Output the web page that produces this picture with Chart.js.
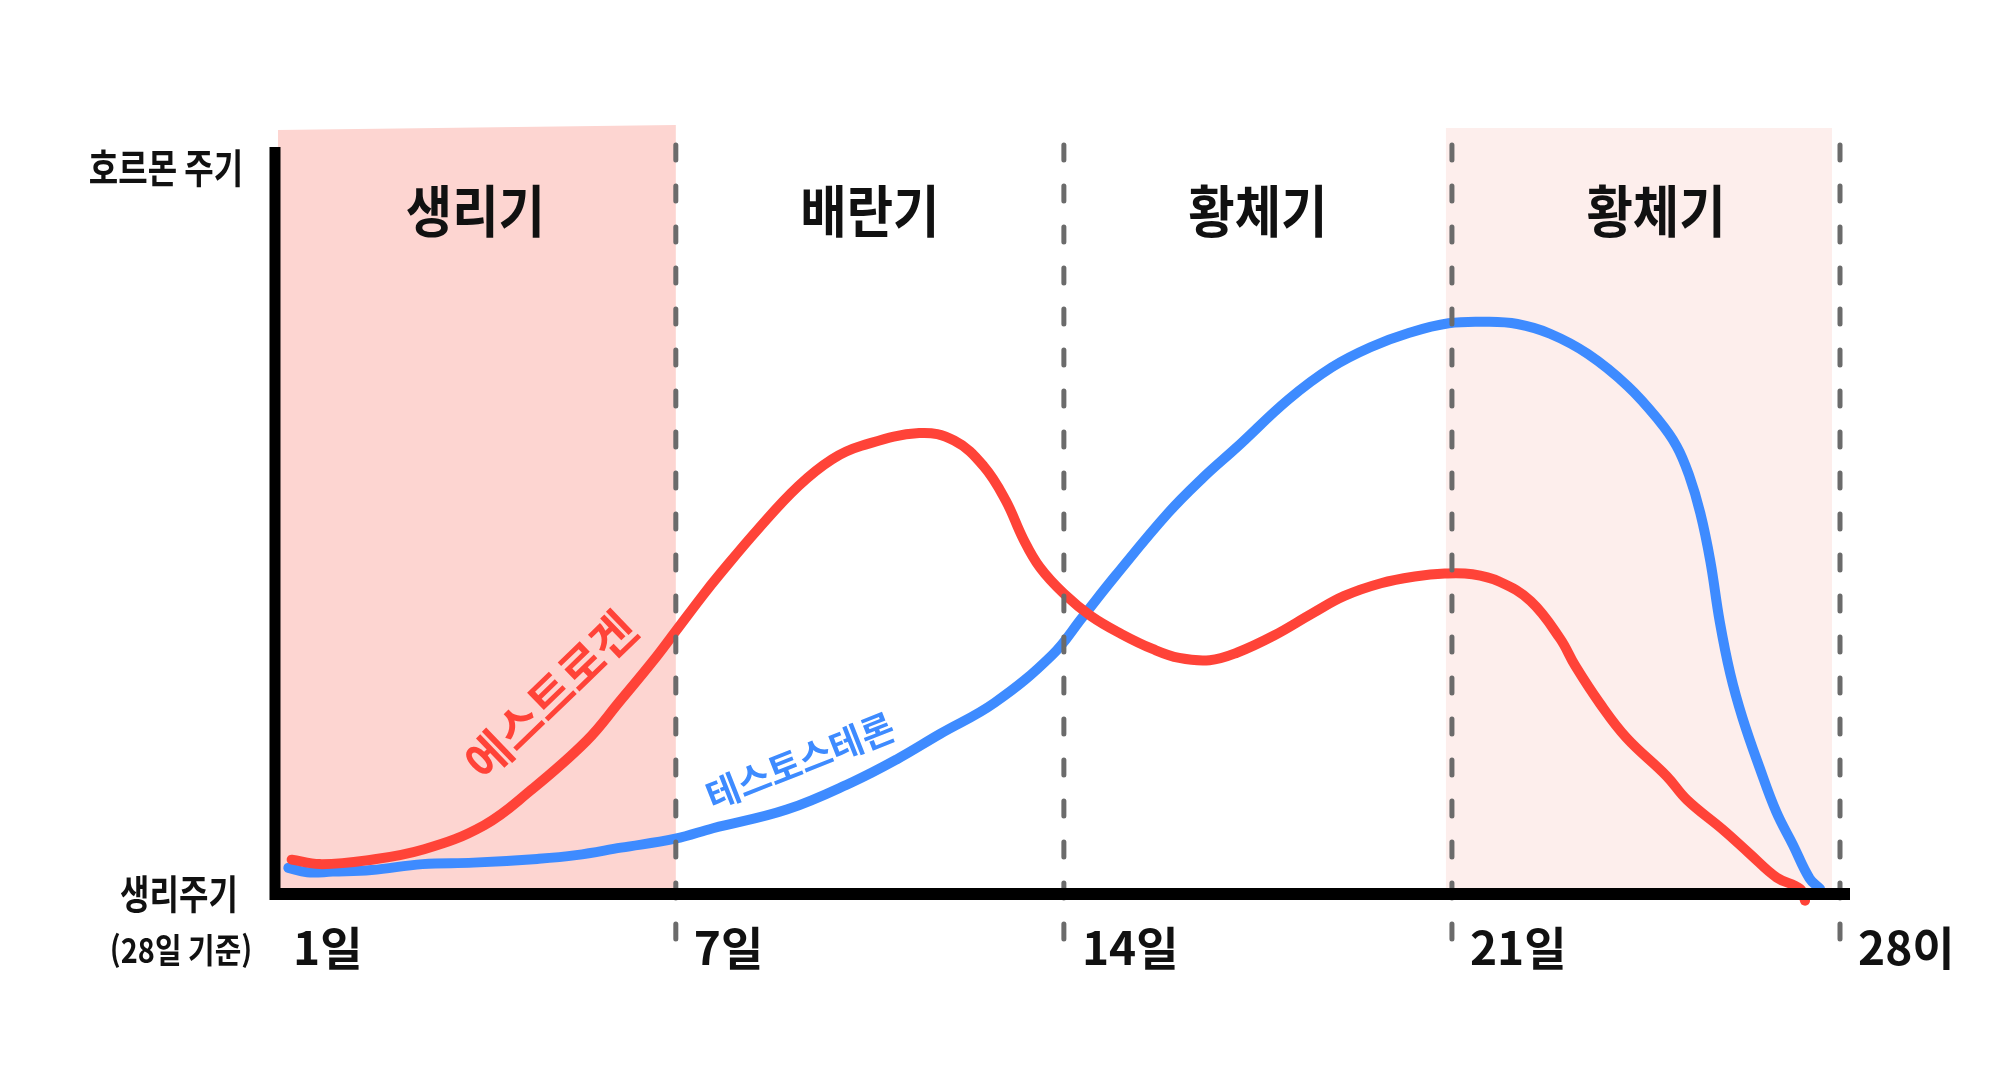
<!DOCTYPE html>
<html lang="ko">
<head>
<meta charset="utf-8">
<script src="https://cdn.jsdelivr.net/npm/chart.js@4.4.1/dist/chart.umd.min.js"></script>
<style>
html,body{margin:0;padding:0;background:#ffffff;}
#wrap{width:2008px;height:1068px;position:relative;}
</style>
</head>
<body>
<div id="wrap"><canvas id="c"></canvas></div>
<script>
// ---- data (x = day on the 28-day axis, y = relative hormone level) ----
const X_START = -0.23; // axis origin, labelled "1일"
const estrogenDays = [0.07,0.58,1.42,2.46,3.54,4.37,5.39,5.99,6.59,7.00,7.49,7.77,8.49,9.21,9.82,10.35,11.39,12.02,12.55,12.95,13.27,13.57,14.00,14.49,15.04,15.60,16.08,16.63,17.12,17.79,18.49,19.06,19.72,20.33,20.87,21.37,21.86,22.42,22.95,23.22,23.67,24.15,24.87,25.24,25.89,26.37,26.86,27.28,27.37];
const estrogenLevels = [4.6,4.0,4.5,6.0,9.2,13.8,20.5,25.8,31.2,35.2,40.0,42.6,48.9,54.6,58.2,60.0,61.7,60.7,57.3,52.7,47.5,43.7,40.2,37.2,34.8,32.8,31.6,31.3,32.3,34.6,37.6,39.9,41.6,42.5,42.9,42.8,41.8,39.2,34.2,30.6,25.5,20.9,15.8,12.6,8.6,5.4,2.2,0.7,-0.9];
const testosteroneDays = [0.01,0.35,0.81,1.51,2.43,3.35,4.50,5.20,6.01,6.99,7.67,9.00,10.19,10.98,11.76,12.75,13.79,14.33,14.93,15.88,16.52,17.12,18.05,18.83,19.53,20.22,20.94,21.61,22.18,22.77,23.45,24.17,24.72,25.05,25.28,25.48,25.66,25.83,26.02,26.24,26.55,26.85,27.15,27.45,27.64];
const testosteroneLevels = [3.5,2.9,3.0,3.2,4.0,4.2,4.7,5.2,6.2,7.4,8.8,11.3,15.0,18.0,21.4,25.6,32.0,37.0,42.6,51.0,55.8,59.8,66.2,70.5,73.2,75.1,76.4,76.6,76.3,75.0,72.3,68.0,63.5,60.0,56.0,51.0,44.6,36.5,29.5,23.6,16.9,11.0,6.6,2.1,0.7];
const tickDays = [X_START,7,14,21,28];
const tickLabels = ['1일','7일','14일','21일','28이'];
const phaseBounds = [X_START,7,14,21,28];
const phaseLabels = ['생리기','배란기','황체기','황체기'];
const seriesNames = ['에스트로겐','테스토스테론'];
const yAxisTitle = '호르몬 주기';
const xAxisTitle = ['생리주기','(28일 기준)'];

// ---- styling ----
const FONT = '"Noto Sans CJK KR", "Noto Sans", sans-serif';
const RED = '#FF4338';
const BLUE = '#3E8BFF';
const INK = '#111111';
const DASH = '#6B6B6B';
const PINK_STRONG = '#FDD5D1';
const PINK_LIGHT = '#FDEEEC';
// where the in-chart series names sit (in data units) and their tilt
const seriesLabelPlacement = [
  {day: 4.74, level: 26.6, angle: -44, size: 47, color: RED},
  {day: 9.24, level: 17.8, angle: -21.5, size: 36, color: BLUE}
];

function drawText(ctx, text, x, y, size, color, sx, angle) {
  ctx.save();
  ctx.translate(x, y);
  if (angle) ctx.rotate(angle * Math.PI / 180);
  ctx.scale(sx || 1, 1);
  ctx.font = 'bold ' + size + 'px ' + FONT;
  ctx.fillStyle = color;
  ctx.textAlign = 'center';
  ctx.textBaseline = 'middle';
  ctx.fillText(text, 0, 0);
  ctx.restore();
}

const decor = {
  id: 'decor',
  beforeDatasetsDraw(chart) {
    const {ctx, chartArea: a, scales: {x}} = chart;
    ctx.save();
    const p0 = x.getPixelForValue(phaseBounds[0]);
    const p1 = x.getPixelForValue(phaseBounds[1]);
    const p3 = x.getPixelForValue(phaseBounds[3]);
    const p4 = x.getPixelForValue(phaseBounds[4]);
    ctx.fillStyle = PINK_STRONG;
    ctx.beginPath();
    ctx.moveTo(p0 + 3, a.top - 17);
    ctx.lineTo(p1, a.top - 22);
    ctx.lineTo(p1, a.bottom);
    ctx.lineTo(p0 + 3, a.bottom);
    ctx.closePath();
    ctx.fill();
    ctx.fillStyle = PINK_LIGHT;
    ctx.fillRect(p3 - 6, a.top - 19, (p4 - 8) - (p3 - 6), a.bottom - a.top + 19);
    ctx.restore();
  },
  afterDatasetsDraw(chart) {
    const {ctx, chartArea: a, scales: {x, y}} = chart;
    ctx.save();
    // dashed phase dividers
    ctx.strokeStyle = DASH;
    ctx.lineWidth = 5;
    ctx.lineCap = 'round';
    ctx.setLineDash([15, 26]);
    for (let i = 1; i < phaseBounds.length; i++) {
      const px = x.getPixelForValue(phaseBounds[i]);
      ctx.beginPath();
      ctx.moveTo(px, a.top - 2);
      ctx.lineTo(px, a.bottom + 68);
      ctx.stroke();
    }
    ctx.setLineDash([]);
    // axes
    ctx.strokeStyle = '#000';
    ctx.lineCap = 'butt';
    ctx.lineWidth = 11;
    ctx.beginPath();
    ctx.moveTo(a.left, a.top);
    ctx.lineTo(a.left, a.bottom + 6);
    ctx.stroke();
    ctx.lineWidth = 12;
    ctx.beginPath();
    ctx.moveTo(a.left - 5, a.bottom);
    ctx.lineTo(a.right + 10, a.bottom);
    ctx.stroke();
    // phase labels
    for (let i = 0; i < phaseLabels.length; i++) {
      const cx = (x.getPixelForValue(phaseBounds[i]) + x.getPixelForValue(phaseBounds[i + 1])) / 2;
      drawText(ctx, phaseLabels[i], cx + (i === 3 ? 10 : 0), a.top + 64, 56, INK, 0.9, 0);
    }
    // axis titles
    drawText(ctx, yAxisTitle, a.left - 109, a.top + 21, 40, INK, 0.8, 0);
    drawText(ctx, xAxisTitle[0], a.left - 96, a.bottom + 0, 40, INK, 0.8, 0);
    drawText(ctx, xAxisTitle[1], a.left - 94, a.bottom + 56, 34, INK, 0.85, 0);
    // series names along the curves
    seriesLabelPlacement.forEach((s, i) => {
      drawText(ctx, seriesNames[i], x.getPixelForValue(s.day), y.getPixelForValue(s.level), s.size, s.color, 1, s.angle);
    });
    ctx.restore();
  }
};

const ctxEl = document.getElementById('c');
new Chart(ctxEl, {
  type: 'line',
  data: {
    datasets: [
      {
        label: seriesNames[0],
        data: estrogenDays.map((d, i) => ({x: d, y: estrogenLevels[i]})),
        borderColor: RED,
        backgroundColor: RED,
        borderWidth: 10,
        pointRadius: 0,
        tension: 0.4,
        borderCapStyle: 'round',
        borderJoinStyle: 'round',
        clip: false
      },
      {
        label: seriesNames[1],
        data: testosteroneDays.map((d, i) => ({x: d, y: testosteroneLevels[i]})),
        borderColor: BLUE,
        backgroundColor: BLUE,
        borderWidth: 10,
        pointRadius: 0,
        tension: 0.4,
        borderCapStyle: 'round',
        borderJoinStyle: 'round',
        clip: false
      }
    ]
  },
  options: {
    responsive: true,
    maintainAspectRatio: false,
    animation: false,
    events: [],
    layout: {padding: {left: 275, right: 168, top: 147, bottom: 0}},
    plugins: {legend: {display: false}, tooltip: {enabled: false}},
    scales: {
      x: {
        type: 'linear',
        min: X_START,
        max: 28,
        grid: {display: false},
        border: {display: false},
        afterBuildTicks: (scale) => { scale.ticks = tickDays.map(v => ({value: v})); },
        afterFit: (scale) => { scale.height = 174; },
        ticks: {
          autoSkip: false,
          maxRotation: 0,
          minRotation: 0,
          align: 'start',
          labelOffset: 18,
          padding: 18,
          color: INK,
          font: {family: FONT, size: 46, weight: 'bold'},
          callback: (v, i) => tickLabels[i]
        }
      },
      y: {
        type: 'linear',
        min: 0,
        max: 100,
        display: false
      }
    }
  },
  plugins: [decor]
});
</script>
</body>
</html>
